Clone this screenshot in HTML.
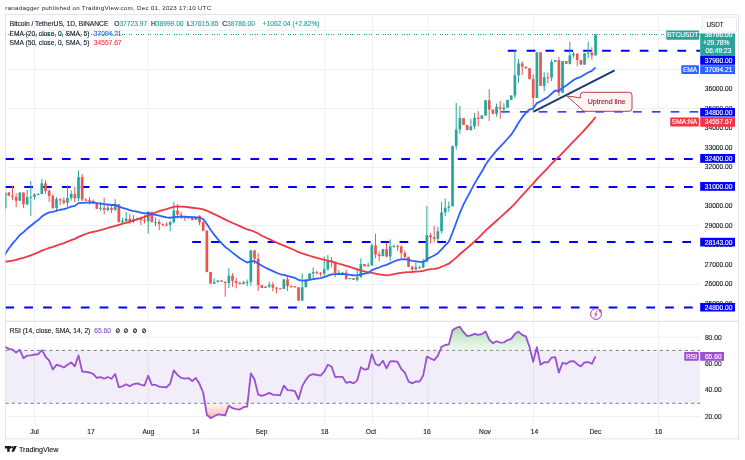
<!DOCTYPE html>
<html><head><meta charset="utf-8"><style>html,body{margin:0;padding:0;background:#fff;width:745px;height:460px;overflow:hidden}</style></head>
<body><svg width="745" height="460" viewBox="0 0 745 460" style="display:block;font-family:'Liberation Sans', sans-serif;will-change:transform">
<defs><clipPath id="plot"><rect x="5.5" y="15" width="694.5" height="306"/></clipPath><clipPath id="rsip"><rect x="5.5" y="321.8" width="694.5" height="103"/></clipPath><linearGradient id="osg" x1="0" y1="0" x2="0" y2="1"><stop offset="0" stop-color="#f7c9c4" stop-opacity="0.2"/><stop offset="1" stop-color="#f4a79d" stop-opacity="0.9"/></linearGradient><linearGradient id="obg" x1="0" y1="1" x2="0" y2="0"><stop offset="0" stop-color="#c5e8c8" stop-opacity="0.3"/><stop offset="1" stop-color="#9fd8a6" stop-opacity="0.9"/></linearGradient></defs>
<rect width="745" height="460" fill="#fff"/>
<text x="5.3" y="10.2" font-size="6.2" letter-spacing="0.27" fill="#222" stroke="none">ranadagger published on TradingView.com, Dec 01, 2023 17:10 UTC</text>
<rect x="5.5" y="14.5" width="733" height="424.3" fill="none" stroke="#e3e5ea" stroke-width="1"/>
<line x1="5.5" x2="700" y1="30.5" y2="30.5" stroke="#eef0f4" stroke-width="1"/>
<line x1="5.5" x2="700" y1="69.5" y2="69.5" stroke="#eef0f4" stroke-width="1"/>
<line x1="5.5" x2="700" y1="108.5" y2="108.5" stroke="#eef0f4" stroke-width="1"/>
<line x1="5.5" x2="700" y1="167.5" y2="167.5" stroke="#eef0f4" stroke-width="1"/>
<line x1="5.5" x2="700" y1="225.5" y2="225.5" stroke="#eef0f4" stroke-width="1"/>
<line x1="5.5" x2="700" y1="284.5" y2="284.5" stroke="#eef0f4" stroke-width="1"/>
<line x1="5.5" x2="700" y1="337.3" y2="337.3" stroke="#eef0f4" stroke-width="1"/>
<line x1="5.5" x2="700" y1="416.4" y2="416.4" stroke="#eef0f4" stroke-width="1"/>
<line x1="34.5" x2="34.5" y1="15" y2="424.5" stroke="#eef0f4" stroke-width="1"/>
<line x1="148.3" x2="148.3" y1="15" y2="424.5" stroke="#eef0f4" stroke-width="1"/>
<line x1="324.8" x2="324.8" y1="15" y2="424.5" stroke="#eef0f4" stroke-width="1"/>
<line x1="372.5" x2="372.5" y1="15" y2="424.5" stroke="#eef0f4" stroke-width="1"/>
<line x1="428.3" x2="428.3" y1="15" y2="424.5" stroke="#eef0f4" stroke-width="1"/>
<line x1="533.6" x2="533.6" y1="15" y2="424.5" stroke="#eef0f4" stroke-width="1"/>
<line x1="658.4" x2="658.4" y1="15" y2="424.5" stroke="#eef0f4" stroke-width="1"/>
<line x1="5" x2="738" y1="321.3" y2="321.3" stroke="#e0e3eb" stroke-width="1.2"/>
<g clip-path="url(#plot)">
<line x1="507.8" x2="700" y1="50.80" y2="50.80" stroke="#0000ff" stroke-width="2" stroke-dasharray="8.7 10.15" stroke-dashoffset="0"/>
<line x1="501" x2="700" y1="111.90" y2="111.90" stroke="#0000ff" stroke-width="1.3" stroke-dasharray="8.7 10.15" stroke-dashoffset="0"/>
<line x1="5.4" x2="700" y1="159.00" y2="159.00" stroke="#0000ff" stroke-width="2" stroke-dasharray="8.7 10.15" stroke-dashoffset="0"/>
<line x1="5.4" x2="700" y1="186.90" y2="186.90" stroke="#0000ff" stroke-width="2" stroke-dasharray="8.7 10.15" stroke-dashoffset="0"/>
<line x1="192.2" x2="700" y1="242.00" y2="242.00" stroke="#0000ff" stroke-width="2" stroke-dasharray="8.7 10.15" stroke-dashoffset="0"/>
<line x1="5.4" x2="700" y1="307.60" y2="307.60" stroke="#0000ff" stroke-width="2" stroke-dasharray="8.7 10.15" stroke-dashoffset="0"/>
<line x1="5" x2="700" y1="34.5" y2="34.5" stroke="#1f9e88" stroke-width="1" stroke-dasharray="1 1 1 4 1 1 1 2 1 1 1 4" stroke-dashoffset="9"/>
<line x1="1.50" x2="1.50" y1="196.25" y2="213.80" stroke="#ef5350" stroke-width="1"/><rect x="0.15" y="206.00" width="2.7" height="2.15" fill="#ef5350"/><line x1="5.16" x2="5.16" y1="192.34" y2="209.71" stroke="#26a69a" stroke-width="1"/><rect x="3.81" y="192.54" width="2.7" height="15.61" fill="#26a69a"/><line x1="8.83" x2="8.83" y1="191.95" y2="196.25" stroke="#ef5350" stroke-width="1"/><rect x="7.48" y="192.54" width="2.7" height="3.12" fill="#ef5350"/><line x1="12.50" x2="12.50" y1="185.52" y2="200.15" stroke="#ef5350" stroke-width="1"/><rect x="11.15" y="195.66" width="2.7" height="1.17" fill="#ef5350"/><line x1="16.16" x2="16.16" y1="193.32" y2="207.37" stroke="#ef5350" stroke-width="1"/><rect x="14.81" y="196.83" width="2.7" height="3.90" fill="#ef5350"/><line x1="19.83" x2="19.83" y1="192.34" y2="200.93" stroke="#26a69a" stroke-width="1"/><rect x="18.48" y="192.54" width="2.7" height="8.19" fill="#26a69a"/><line x1="23.50" x2="23.50" y1="192.34" y2="207.95" stroke="#ef5350" stroke-width="1"/><rect x="22.15" y="192.54" width="2.7" height="11.90" fill="#ef5350"/><line x1="27.17" x2="27.17" y1="189.81" y2="205.22" stroke="#26a69a" stroke-width="1"/><rect x="25.82" y="197.22" width="2.7" height="7.22" fill="#26a69a"/><line x1="30.83" x2="30.83" y1="181.03" y2="215.75" stroke="#26a69a" stroke-width="1"/><rect x="29.48" y="196.83" width="2.7" height="1.00" fill="#26a69a"/><line x1="34.50" x2="34.50" y1="193.32" y2="199.56" stroke="#26a69a" stroke-width="1"/><rect x="33.15" y="194.49" width="2.7" height="2.34" fill="#26a69a"/><line x1="38.17" x2="38.17" y1="193.32" y2="195.27" stroke="#26a69a" stroke-width="1"/><rect x="36.82" y="193.91" width="2.7" height="1.00" fill="#26a69a"/><line x1="41.83" x2="41.83" y1="179.08" y2="194.30" stroke="#26a69a" stroke-width="1"/><rect x="40.48" y="183.37" width="2.7" height="10.53" fill="#26a69a"/><line x1="45.50" x2="45.50" y1="180.25" y2="193.71" stroke="#ef5350" stroke-width="1"/><rect x="44.15" y="183.37" width="2.7" height="7.61" fill="#ef5350"/><line x1="49.17" x2="49.17" y1="188.83" y2="202.10" stroke="#ef5350" stroke-width="1"/><rect x="47.82" y="190.98" width="2.7" height="5.07" fill="#ef5350"/><line x1="52.84" x2="52.84" y1="194.30" y2="208.93" stroke="#ef5350" stroke-width="1"/><rect x="51.48" y="196.05" width="2.7" height="11.90" fill="#ef5350"/><line x1="56.50" x2="56.50" y1="197.22" y2="211.85" stroke="#26a69a" stroke-width="1"/><rect x="55.15" y="199.17" width="2.7" height="8.78" fill="#26a69a"/><line x1="60.17" x2="60.17" y1="198.39" y2="205.02" stroke="#ef5350" stroke-width="1"/><rect x="58.82" y="199.17" width="2.7" height="1.17" fill="#ef5350"/><line x1="63.84" x2="63.84" y1="197.22" y2="204.44" stroke="#ef5350" stroke-width="1"/><rect x="62.49" y="200.34" width="2.7" height="2.34" fill="#ef5350"/><line x1="67.50" x2="67.50" y1="185.52" y2="206.98" stroke="#26a69a" stroke-width="1"/><rect x="66.15" y="198.00" width="2.7" height="4.68" fill="#26a69a"/><line x1="71.17" x2="71.17" y1="190.39" y2="200.73" stroke="#26a69a" stroke-width="1"/><rect x="69.82" y="193.91" width="2.7" height="4.10" fill="#26a69a"/><line x1="74.84" x2="74.84" y1="186.69" y2="202.10" stroke="#ef5350" stroke-width="1"/><rect x="73.49" y="193.91" width="2.7" height="4.49" fill="#ef5350"/><line x1="78.50" x2="78.50" y1="170.50" y2="201.12" stroke="#26a69a" stroke-width="1"/><rect x="77.15" y="177.13" width="2.7" height="21.26" fill="#26a69a"/><line x1="82.17" x2="82.17" y1="174.01" y2="201.12" stroke="#ef5350" stroke-width="1"/><rect x="80.82" y="177.13" width="2.7" height="22.43" fill="#ef5350"/><line x1="85.84" x2="85.84" y1="198.20" y2="201.12" stroke="#ef5350" stroke-width="1"/><rect x="84.49" y="199.56" width="2.7" height="1.00" fill="#ef5350"/><line x1="89.50" x2="89.50" y1="197.22" y2="204.44" stroke="#ef5350" stroke-width="1"/><rect x="88.16" y="200.15" width="2.7" height="1.00" fill="#ef5350"/><line x1="93.17" x2="93.17" y1="199.37" y2="204.05" stroke="#ef5350" stroke-width="1"/><rect x="91.82" y="201.12" width="2.7" height="1.95" fill="#ef5350"/><line x1="96.84" x2="96.84" y1="202.49" y2="208.93" stroke="#ef5350" stroke-width="1"/><rect x="95.49" y="203.07" width="2.7" height="5.66" fill="#ef5350"/><line x1="100.51" x2="100.51" y1="202.10" y2="210.68" stroke="#26a69a" stroke-width="1"/><rect x="99.16" y="207.76" width="2.7" height="1.00" fill="#26a69a"/><line x1="104.17" x2="104.17" y1="197.81" y2="214.39" stroke="#ef5350" stroke-width="1"/><rect x="102.82" y="207.76" width="2.7" height="2.15" fill="#ef5350"/><line x1="107.84" x2="107.84" y1="205.02" y2="211.46" stroke="#26a69a" stroke-width="1"/><rect x="106.49" y="207.76" width="2.7" height="2.15" fill="#26a69a"/><line x1="111.51" x2="111.51" y1="206.20" y2="213.02" stroke="#ef5350" stroke-width="1"/><rect x="110.16" y="207.76" width="2.7" height="2.15" fill="#ef5350"/><line x1="115.17" x2="115.17" y1="199.17" y2="210.88" stroke="#26a69a" stroke-width="1"/><rect x="113.82" y="204.24" width="2.7" height="5.66" fill="#26a69a"/><line x1="118.84" x2="118.84" y1="204.05" y2="222.58" stroke="#ef5350" stroke-width="1"/><rect x="117.49" y="204.24" width="2.7" height="17.75" fill="#ef5350"/><line x1="122.51" x2="122.51" y1="217.90" y2="224.92" stroke="#26a69a" stroke-width="1"/><rect x="121.16" y="221.02" width="2.7" height="1.00" fill="#26a69a"/><line x1="126.17" x2="126.17" y1="212.05" y2="223.56" stroke="#26a69a" stroke-width="1"/><rect x="124.83" y="218.68" width="2.7" height="2.34" fill="#26a69a"/><line x1="129.84" x2="129.84" y1="214.19" y2="224.14" stroke="#ef5350" stroke-width="1"/><rect x="128.49" y="218.68" width="2.7" height="2.73" fill="#ef5350"/><line x1="133.51" x2="133.51" y1="215.17" y2="223.17" stroke="#26a69a" stroke-width="1"/><rect x="132.16" y="219.27" width="2.7" height="2.15" fill="#26a69a"/><line x1="137.18" x2="137.18" y1="217.51" y2="220.44" stroke="#26a69a" stroke-width="1"/><rect x="135.83" y="218.49" width="2.7" height="1.00" fill="#26a69a"/><line x1="140.84" x2="140.84" y1="216.73" y2="224.92" stroke="#ef5350" stroke-width="1"/><rect x="139.49" y="218.49" width="2.7" height="1.56" fill="#ef5350"/><line x1="144.51" x2="144.51" y1="215.17" y2="223.56" stroke="#ef5350" stroke-width="1"/><rect x="143.16" y="220.05" width="2.7" height="1.00" fill="#ef5350"/><line x1="148.18" x2="148.18" y1="211.07" y2="233.51" stroke="#26a69a" stroke-width="1"/><rect x="146.83" y="211.85" width="2.7" height="9.17" fill="#26a69a"/><line x1="151.84" x2="151.84" y1="211.46" y2="222.58" stroke="#ef5350" stroke-width="1"/><rect x="150.49" y="211.85" width="2.7" height="10.14" fill="#ef5350"/><line x1="155.51" x2="155.51" y1="217.51" y2="226.29" stroke="#26a69a" stroke-width="1"/><rect x="154.16" y="222.00" width="2.7" height="1.00" fill="#26a69a"/><line x1="159.18" x2="159.18" y1="219.46" y2="230.38" stroke="#ef5350" stroke-width="1"/><rect x="157.83" y="222.00" width="2.7" height="2.15" fill="#ef5350"/><line x1="162.84" x2="162.84" y1="223.36" y2="226.29" stroke="#ef5350" stroke-width="1"/><rect x="161.50" y="224.14" width="2.7" height="1.00" fill="#ef5350"/><line x1="166.51" x2="166.51" y1="222.39" y2="226.29" stroke="#ef5350" stroke-width="1"/><rect x="165.16" y="224.53" width="2.7" height="1.00" fill="#ef5350"/><line x1="170.18" x2="170.18" y1="220.83" y2="231.36" stroke="#26a69a" stroke-width="1"/><rect x="168.83" y="222.00" width="2.7" height="2.73" fill="#26a69a"/><line x1="173.85" x2="173.85" y1="202.10" y2="223.56" stroke="#26a69a" stroke-width="1"/><rect x="172.50" y="210.49" width="2.7" height="11.51" fill="#26a69a"/><line x1="177.51" x2="177.51" y1="204.05" y2="218.68" stroke="#ef5350" stroke-width="1"/><rect x="176.16" y="210.49" width="2.7" height="4.10" fill="#ef5350"/><line x1="181.18" x2="181.18" y1="211.66" y2="219.07" stroke="#ef5350" stroke-width="1"/><rect x="179.83" y="214.58" width="2.7" height="2.54" fill="#ef5350"/><line x1="184.85" x2="184.85" y1="215.36" y2="220.83" stroke="#ef5350" stroke-width="1"/><rect x="183.50" y="217.12" width="2.7" height="1.00" fill="#ef5350"/><line x1="188.51" x2="188.51" y1="216.34" y2="218.68" stroke="#26a69a" stroke-width="1"/><rect x="187.16" y="217.31" width="2.7" height="1.00" fill="#26a69a"/><line x1="192.18" x2="192.18" y1="216.73" y2="220.44" stroke="#ef5350" stroke-width="1"/><rect x="190.83" y="216.92" width="2.7" height="2.93" fill="#ef5350"/><line x1="195.85" x2="195.85" y1="216.92" y2="220.05" stroke="#26a69a" stroke-width="1"/><rect x="194.50" y="217.51" width="2.7" height="2.34" fill="#26a69a"/><line x1="199.51" x2="199.51" y1="215.36" y2="225.12" stroke="#ef5350" stroke-width="1"/><rect x="198.16" y="215.75" width="2.7" height="6.44" fill="#ef5350"/><line x1="203.18" x2="203.18" y1="220.83" y2="231.36" stroke="#ef5350" stroke-width="1"/><rect x="201.83" y="222.19" width="2.7" height="8.58" fill="#ef5350"/><line x1="206.85" x2="206.85" y1="230.19" y2="272.33" stroke="#ef5350" stroke-width="1"/><rect x="205.50" y="230.78" width="2.7" height="41.16" fill="#ef5350"/><line x1="210.52" x2="210.52" y1="271.94" y2="283.64" stroke="#ef5350" stroke-width="1"/><rect x="209.17" y="271.94" width="2.7" height="11.70" fill="#ef5350"/><line x1="214.18" x2="214.18" y1="278.37" y2="284.23" stroke="#26a69a" stroke-width="1"/><rect x="212.83" y="282.08" width="2.7" height="1.56" fill="#26a69a"/><line x1="217.85" x2="217.85" y1="280.13" y2="282.28" stroke="#26a69a" stroke-width="1"/><rect x="216.50" y="280.52" width="2.7" height="1.56" fill="#26a69a"/><line x1="221.52" x2="221.52" y1="280.33" y2="281.89" stroke="#ef5350" stroke-width="1"/><rect x="220.17" y="280.52" width="2.7" height="1.17" fill="#ef5350"/><line x1="225.18" x2="225.18" y1="281.50" y2="296.71" stroke="#ef5350" stroke-width="1"/><rect x="223.83" y="281.69" width="2.7" height="1.37" fill="#ef5350"/><line x1="228.85" x2="228.85" y1="268.23" y2="287.93" stroke="#26a69a" stroke-width="1"/><rect x="227.50" y="275.64" width="2.7" height="7.41" fill="#26a69a"/><line x1="232.52" x2="232.52" y1="273.11" y2="286.76" stroke="#ef5350" stroke-width="1"/><rect x="231.17" y="275.64" width="2.7" height="5.27" fill="#ef5350"/><line x1="236.19" x2="236.19" y1="277.79" y2="288.32" stroke="#ef5350" stroke-width="1"/><rect x="234.84" y="280.91" width="2.7" height="2.15" fill="#ef5350"/><line x1="239.85" x2="239.85" y1="281.50" y2="284.62" stroke="#ef5350" stroke-width="1"/><rect x="238.50" y="283.06" width="2.7" height="1.00" fill="#ef5350"/><line x1="243.52" x2="243.52" y1="280.72" y2="284.42" stroke="#26a69a" stroke-width="1"/><rect x="242.17" y="282.28" width="2.7" height="1.56" fill="#26a69a"/><line x1="247.19" x2="247.19" y1="279.55" y2="286.37" stroke="#26a69a" stroke-width="1"/><rect x="245.84" y="281.89" width="2.7" height="1.00" fill="#26a69a"/><line x1="250.85" x2="250.85" y1="249.70" y2="285.59" stroke="#26a69a" stroke-width="1"/><rect x="249.50" y="250.48" width="2.7" height="31.41" fill="#26a69a"/><line x1="254.52" x2="254.52" y1="249.70" y2="263.94" stroke="#ef5350" stroke-width="1"/><rect x="253.17" y="250.48" width="2.7" height="8.19" fill="#ef5350"/><line x1="258.19" x2="258.19" y1="253.21" y2="290.86" stroke="#ef5350" stroke-width="1"/><rect x="256.84" y="258.67" width="2.7" height="26.53" fill="#ef5350"/><line x1="261.85" x2="261.85" y1="285.01" y2="287.93" stroke="#ef5350" stroke-width="1"/><rect x="260.50" y="285.20" width="2.7" height="2.73" fill="#ef5350"/><line x1="265.52" x2="265.52" y1="286.37" y2="288.13" stroke="#26a69a" stroke-width="1"/><rect x="264.17" y="286.57" width="2.7" height="1.37" fill="#26a69a"/><line x1="269.19" x2="269.19" y1="281.50" y2="288.13" stroke="#26a69a" stroke-width="1"/><rect x="267.84" y="284.62" width="2.7" height="1.95" fill="#26a69a"/><line x1="272.86" x2="272.86" y1="281.89" y2="291.45" stroke="#ef5350" stroke-width="1"/><rect x="271.50" y="284.62" width="2.7" height="3.12" fill="#ef5350"/><line x1="276.52" x2="276.52" y1="286.76" y2="293.40" stroke="#ef5350" stroke-width="1"/><rect x="275.17" y="287.74" width="2.7" height="1.00" fill="#ef5350"/><line x1="280.19" x2="280.19" y1="287.93" y2="289.10" stroke="#ef5350" stroke-width="1"/><rect x="278.84" y="288.32" width="2.7" height="1.00" fill="#ef5350"/><line x1="283.86" x2="283.86" y1="278.96" y2="289.10" stroke="#26a69a" stroke-width="1"/><rect x="282.51" y="279.35" width="2.7" height="9.56" fill="#26a69a"/><line x1="287.52" x2="287.52" y1="275.45" y2="291.05" stroke="#ef5350" stroke-width="1"/><rect x="286.17" y="279.35" width="2.7" height="6.63" fill="#ef5350"/><line x1="291.19" x2="291.19" y1="285.20" y2="287.93" stroke="#ef5350" stroke-width="1"/><rect x="289.84" y="285.98" width="2.7" height="1.00" fill="#ef5350"/><line x1="294.86" x2="294.86" y1="285.98" y2="287.54" stroke="#ef5350" stroke-width="1"/><rect x="293.51" y="286.18" width="2.7" height="1.17" fill="#ef5350"/><line x1="298.52" x2="298.52" y1="286.96" y2="300.81" stroke="#ef5350" stroke-width="1"/><rect x="297.17" y="287.35" width="2.7" height="13.07" fill="#ef5350"/><line x1="302.19" x2="302.19" y1="273.50" y2="301.00" stroke="#26a69a" stroke-width="1"/><rect x="300.84" y="287.15" width="2.7" height="13.27" fill="#26a69a"/><line x1="305.86" x2="305.86" y1="279.15" y2="287.35" stroke="#26a69a" stroke-width="1"/><rect x="304.51" y="279.55" width="2.7" height="7.61" fill="#26a69a"/><line x1="309.52" x2="309.52" y1="273.11" y2="280.13" stroke="#26a69a" stroke-width="1"/><rect x="308.17" y="273.50" width="2.7" height="6.05" fill="#26a69a"/><line x1="313.19" x2="313.19" y1="267.45" y2="279.74" stroke="#26a69a" stroke-width="1"/><rect x="311.84" y="272.13" width="2.7" height="1.37" fill="#26a69a"/><line x1="316.86" x2="316.86" y1="270.96" y2="274.67" stroke="#ef5350" stroke-width="1"/><rect x="315.51" y="272.13" width="2.7" height="1.00" fill="#ef5350"/><line x1="320.53" x2="320.53" y1="271.94" y2="276.42" stroke="#ef5350" stroke-width="1"/><rect x="319.18" y="272.91" width="2.7" height="1.00" fill="#ef5350"/><line x1="324.19" x2="324.19" y1="256.53" y2="276.62" stroke="#26a69a" stroke-width="1"/><rect x="322.84" y="269.21" width="2.7" height="4.49" fill="#26a69a"/><line x1="327.86" x2="327.86" y1="254.97" y2="270.96" stroke="#26a69a" stroke-width="1"/><rect x="326.51" y="260.43" width="2.7" height="8.78" fill="#26a69a"/><line x1="331.53" x2="331.53" y1="257.31" y2="267.45" stroke="#ef5350" stroke-width="1"/><rect x="330.18" y="260.43" width="2.7" height="1.56" fill="#ef5350"/><line x1="335.19" x2="335.19" y1="261.60" y2="277.01" stroke="#ef5350" stroke-width="1"/><rect x="333.84" y="261.99" width="2.7" height="10.92" fill="#ef5350"/><line x1="338.86" x2="338.86" y1="269.99" y2="274.86" stroke="#26a69a" stroke-width="1"/><rect x="337.51" y="272.72" width="2.7" height="1.00" fill="#26a69a"/><line x1="342.53" x2="342.53" y1="271.94" y2="274.08" stroke="#26a69a" stroke-width="1"/><rect x="341.18" y="272.72" width="2.7" height="1.00" fill="#26a69a"/><line x1="346.19" x2="346.19" y1="269.60" y2="279.74" stroke="#ef5350" stroke-width="1"/><rect x="344.84" y="272.72" width="2.7" height="6.44" fill="#ef5350"/><line x1="349.86" x2="349.86" y1="277.98" y2="279.35" stroke="#26a69a" stroke-width="1"/><rect x="348.51" y="278.18" width="2.7" height="1.00" fill="#26a69a"/><line x1="353.53" x2="353.53" y1="277.98" y2="279.94" stroke="#ef5350" stroke-width="1"/><rect x="352.18" y="278.18" width="2.7" height="1.56" fill="#ef5350"/><line x1="357.20" x2="357.20" y1="267.84" y2="281.50" stroke="#26a69a" stroke-width="1"/><rect x="355.85" y="277.20" width="2.7" height="2.54" fill="#26a69a"/><line x1="360.86" x2="360.86" y1="258.48" y2="277.59" stroke="#26a69a" stroke-width="1"/><rect x="359.51" y="264.13" width="2.7" height="13.07" fill="#26a69a"/><line x1="364.53" x2="364.53" y1="263.94" y2="266.47" stroke="#ef5350" stroke-width="1"/><rect x="363.18" y="264.13" width="2.7" height="2.15" fill="#ef5350"/><line x1="368.20" x2="368.20" y1="262.77" y2="266.86" stroke="#26a69a" stroke-width="1"/><rect x="366.85" y="265.30" width="2.7" height="1.00" fill="#26a69a"/><line x1="371.86" x2="371.86" y1="243.65" y2="265.69" stroke="#26a69a" stroke-width="1"/><rect x="370.51" y="245.41" width="2.7" height="19.90" fill="#26a69a"/><line x1="375.53" x2="375.53" y1="233.70" y2="258.28" stroke="#ef5350" stroke-width="1"/><rect x="374.18" y="245.41" width="2.7" height="9.17" fill="#ef5350"/><line x1="379.20" x2="379.20" y1="251.45" y2="261.40" stroke="#ef5350" stroke-width="1"/><rect x="377.85" y="254.57" width="2.7" height="1.56" fill="#ef5350"/><line x1="382.87" x2="382.87" y1="248.92" y2="256.33" stroke="#26a69a" stroke-width="1"/><rect x="381.51" y="249.11" width="2.7" height="7.02" fill="#26a69a"/><line x1="386.53" x2="386.53" y1="242.68" y2="257.31" stroke="#ef5350" stroke-width="1"/><rect x="385.18" y="249.11" width="2.7" height="7.41" fill="#ef5350"/><line x1="390.20" x2="390.20" y1="239.36" y2="261.01" stroke="#26a69a" stroke-width="1"/><rect x="388.85" y="246.38" width="2.7" height="10.14" fill="#26a69a"/><line x1="393.87" x2="393.87" y1="244.63" y2="247.75" stroke="#26a69a" stroke-width="1"/><rect x="392.52" y="245.80" width="2.7" height="1.00" fill="#26a69a"/><line x1="397.53" x2="397.53" y1="245.02" y2="250.87" stroke="#ef5350" stroke-width="1"/><rect x="396.18" y="245.80" width="2.7" height="1.00" fill="#ef5350"/><line x1="401.20" x2="401.20" y1="245.21" y2="258.87" stroke="#ef5350" stroke-width="1"/><rect x="399.85" y="246.58" width="2.7" height="6.44" fill="#ef5350"/><line x1="404.87" x2="404.87" y1="250.28" y2="258.67" stroke="#ef5350" stroke-width="1"/><rect x="403.52" y="253.01" width="2.7" height="3.90" fill="#ef5350"/><line x1="408.53" x2="408.53" y1="256.72" y2="267.06" stroke="#ef5350" stroke-width="1"/><rect x="407.18" y="256.92" width="2.7" height="9.95" fill="#ef5350"/><line x1="412.20" x2="412.20" y1="265.69" y2="273.50" stroke="#ef5350" stroke-width="1"/><rect x="410.85" y="266.86" width="2.7" height="2.34" fill="#ef5350"/><line x1="415.87" x2="415.87" y1="262.57" y2="270.38" stroke="#26a69a" stroke-width="1"/><rect x="414.52" y="267.26" width="2.7" height="1.95" fill="#26a69a"/><line x1="419.53" x2="419.53" y1="265.50" y2="268.43" stroke="#ef5350" stroke-width="1"/><rect x="418.18" y="267.26" width="2.7" height="1.00" fill="#ef5350"/><line x1="423.20" x2="423.20" y1="258.87" y2="268.23" stroke="#26a69a" stroke-width="1"/><rect x="421.85" y="261.60" width="2.7" height="5.85" fill="#26a69a"/><line x1="426.87" x2="426.87" y1="206.00" y2="262.38" stroke="#26a69a" stroke-width="1"/><rect x="425.52" y="235.26" width="2.7" height="26.34" fill="#26a69a"/><line x1="430.54" x2="430.54" y1="233.12" y2="243.46" stroke="#ef5350" stroke-width="1"/><rect x="429.19" y="235.26" width="2.7" height="1.95" fill="#ef5350"/><line x1="434.20" x2="434.20" y1="225.90" y2="242.48" stroke="#ef5350" stroke-width="1"/><rect x="432.85" y="237.21" width="2.7" height="1.56" fill="#ef5350"/><line x1="437.87" x2="437.87" y1="226.87" y2="241.50" stroke="#26a69a" stroke-width="1"/><rect x="436.52" y="231.17" width="2.7" height="7.61" fill="#26a69a"/><line x1="441.54" x2="441.54" y1="202.10" y2="233.31" stroke="#26a69a" stroke-width="1"/><rect x="440.19" y="212.44" width="2.7" height="18.73" fill="#26a69a"/><line x1="445.20" x2="445.20" y1="198.59" y2="216.14" stroke="#26a69a" stroke-width="1"/><rect x="443.85" y="207.76" width="2.7" height="4.68" fill="#26a69a"/><line x1="448.87" x2="448.87" y1="201.51" y2="211.85" stroke="#26a69a" stroke-width="1"/><rect x="447.52" y="206.20" width="2.7" height="1.56" fill="#26a69a"/><line x1="452.54" x2="452.54" y1="145.53" y2="206.20" stroke="#26a69a" stroke-width="1"/><rect x="451.19" y="146.11" width="2.7" height="60.08" fill="#26a69a"/><line x1="456.20" x2="456.20" y1="103.00" y2="149.82" stroke="#26a69a" stroke-width="1"/><rect x="454.85" y="129.53" width="2.7" height="16.58" fill="#26a69a"/><line x1="459.87" x2="459.87" y1="105.92" y2="134.02" stroke="#26a69a" stroke-width="1"/><rect x="458.52" y="118.21" width="2.7" height="11.31" fill="#26a69a"/><line x1="463.54" x2="463.54" y1="118.02" y2="125.24" stroke="#ef5350" stroke-width="1"/><rect x="462.19" y="118.21" width="2.7" height="6.83" fill="#ef5350"/><line x1="467.21" x2="467.21" y1="124.85" y2="130.31" stroke="#ef5350" stroke-width="1"/><rect x="465.86" y="125.04" width="2.7" height="5.07" fill="#ef5350"/><line x1="470.87" x2="470.87" y1="118.99" y2="130.70" stroke="#26a69a" stroke-width="1"/><rect x="469.52" y="126.41" width="2.7" height="3.71" fill="#26a69a"/><line x1="474.54" x2="474.54" y1="112.95" y2="129.14" stroke="#26a69a" stroke-width="1"/><rect x="473.19" y="117.63" width="2.7" height="8.78" fill="#26a69a"/><line x1="478.21" x2="478.21" y1="111.00" y2="126.41" stroke="#ef5350" stroke-width="1"/><rect x="476.86" y="117.63" width="2.7" height="1.17" fill="#ef5350"/><line x1="481.87" x2="481.87" y1="115.29" y2="118.99" stroke="#26a69a" stroke-width="1"/><rect x="480.52" y="115.48" width="2.7" height="3.32" fill="#26a69a"/><line x1="485.54" x2="485.54" y1="99.88" y2="115.87" stroke="#26a69a" stroke-width="1"/><rect x="484.19" y="100.27" width="2.7" height="15.22" fill="#26a69a"/><line x1="489.21" x2="489.21" y1="89.34" y2="120.95" stroke="#ef5350" stroke-width="1"/><rect x="487.86" y="100.27" width="2.7" height="9.36" fill="#ef5350"/><line x1="492.88" x2="492.88" y1="109.44" y2="114.31" stroke="#ef5350" stroke-width="1"/><rect x="491.52" y="109.63" width="2.7" height="4.10" fill="#ef5350"/><line x1="496.54" x2="496.54" y1="103.58" y2="116.65" stroke="#26a69a" stroke-width="1"/><rect x="495.19" y="106.90" width="2.7" height="6.83" fill="#26a69a"/><line x1="500.21" x2="500.21" y1="101.05" y2="118.60" stroke="#ef5350" stroke-width="1"/><rect x="498.86" y="106.90" width="2.7" height="1.56" fill="#ef5350"/><line x1="503.88" x2="503.88" y1="103.19" y2="113.34" stroke="#26a69a" stroke-width="1"/><rect x="502.53" y="107.68" width="2.7" height="1.76" fill="#26a69a"/><line x1="507.54" x2="507.54" y1="99.88" y2="107.87" stroke="#26a69a" stroke-width="1"/><rect x="506.19" y="99.88" width="2.7" height="7.80" fill="#26a69a"/><line x1="511.21" x2="511.21" y1="95.39" y2="100.07" stroke="#26a69a" stroke-width="1"/><rect x="509.86" y="95.58" width="2.7" height="4.29" fill="#26a69a"/><line x1="514.88" x2="514.88" y1="50.33" y2="98.12" stroke="#26a69a" stroke-width="1"/><rect x="513.53" y="75.30" width="2.7" height="20.29" fill="#26a69a"/><line x1="518.54" x2="518.54" y1="59.10" y2="82.51" stroke="#26a69a" stroke-width="1"/><rect x="517.19" y="63.40" width="2.7" height="11.90" fill="#26a69a"/><line x1="522.21" x2="522.21" y1="61.45" y2="74.91" stroke="#ef5350" stroke-width="1"/><rect x="520.86" y="63.40" width="2.7" height="3.32" fill="#ef5350"/><line x1="525.88" x2="525.88" y1="66.52" y2="68.47" stroke="#ef5350" stroke-width="1"/><rect x="524.53" y="66.71" width="2.7" height="1.56" fill="#ef5350"/><line x1="529.54" x2="529.54" y1="68.08" y2="79.39" stroke="#ef5350" stroke-width="1"/><rect x="528.19" y="68.27" width="2.7" height="10.92" fill="#ef5350"/><line x1="533.21" x2="533.21" y1="74.32" y2="112.36" stroke="#ef5350" stroke-width="1"/><rect x="531.86" y="79.20" width="2.7" height="18.73" fill="#ef5350"/><line x1="536.88" x2="536.88" y1="52.08" y2="98.12" stroke="#26a69a" stroke-width="1"/><rect x="535.53" y="52.28" width="2.7" height="45.65" fill="#26a69a"/><line x1="540.55" x2="540.55" y1="52.08" y2="86.03" stroke="#ef5350" stroke-width="1"/><rect x="539.20" y="52.28" width="2.7" height="33.55" fill="#ef5350"/><line x1="544.21" x2="544.21" y1="72.18" y2="91.29" stroke="#26a69a" stroke-width="1"/><rect x="542.86" y="77.25" width="2.7" height="8.58" fill="#26a69a"/><line x1="547.88" x2="547.88" y1="72.37" y2="83.29" stroke="#ef5350" stroke-width="1"/><rect x="546.53" y="77.25" width="2.7" height="1.00" fill="#ef5350"/><line x1="551.55" x2="551.55" y1="59.49" y2="81.15" stroke="#26a69a" stroke-width="1"/><rect x="550.20" y="61.84" width="2.7" height="15.80" fill="#26a69a"/><line x1="555.21" x2="555.21" y1="59.89" y2="62.03" stroke="#26a69a" stroke-width="1"/><rect x="553.86" y="60.08" width="2.7" height="1.76" fill="#26a69a"/><line x1="558.88" x2="558.88" y1="56.76" y2="96.17" stroke="#ef5350" stroke-width="1"/><rect x="557.53" y="60.08" width="2.7" height="32.58" fill="#ef5350"/><line x1="562.55" x2="562.55" y1="60.86" y2="92.85" stroke="#26a69a" stroke-width="1"/><rect x="561.20" y="61.06" width="2.7" height="31.60" fill="#26a69a"/><line x1="566.21" x2="566.21" y1="60.86" y2="63.98" stroke="#ef5350" stroke-width="1"/><rect x="564.86" y="61.06" width="2.7" height="2.73" fill="#ef5350"/><line x1="569.88" x2="569.88" y1="41.74" y2="64.57" stroke="#26a69a" stroke-width="1"/><rect x="568.53" y="55.40" width="2.7" height="8.39" fill="#26a69a"/><line x1="573.55" x2="573.55" y1="52.08" y2="57.74" stroke="#26a69a" stroke-width="1"/><rect x="572.20" y="53.84" width="2.7" height="1.56" fill="#26a69a"/><line x1="577.22" x2="577.22" y1="53.06" y2="66.32" stroke="#ef5350" stroke-width="1"/><rect x="575.87" y="53.84" width="2.7" height="6.24" fill="#ef5350"/><line x1="580.88" x2="580.88" y1="59.89" y2="64.76" stroke="#ef5350" stroke-width="1"/><rect x="579.53" y="60.08" width="2.7" height="4.49" fill="#ef5350"/><line x1="584.55" x2="584.55" y1="53.06" y2="64.76" stroke="#26a69a" stroke-width="1"/><rect x="583.20" y="53.25" width="2.7" height="11.31" fill="#26a69a"/><line x1="588.22" x2="588.22" y1="41.55" y2="58.52" stroke="#26a69a" stroke-width="1"/><rect x="586.87" y="52.67" width="2.7" height="1.00" fill="#26a69a"/><line x1="591.88" x2="591.88" y1="47.20" y2="59.69" stroke="#ef5350" stroke-width="1"/><rect x="590.53" y="52.67" width="2.7" height="2.73" fill="#ef5350"/><line x1="595.55" x2="595.55" y1="34.33" y2="55.59" stroke="#26a69a" stroke-width="1"/><rect x="594.20" y="34.52" width="2.7" height="20.87" fill="#26a69a"/>
<polyline points="1.50,262.34 5.16,261.63 8.83,261.24 12.50,260.63 16.16,259.91 19.83,258.73 23.50,257.77 27.17,256.66 30.83,255.30 34.50,253.82 38.17,252.32 41.83,250.67 45.50,249.27 49.17,247.91 52.84,246.94 56.50,245.56 60.17,244.24 63.84,243.05 67.50,241.62 71.17,240.15 74.84,238.91 78.50,236.90 82.17,235.40 85.84,234.00 89.50,232.69 93.17,231.88 96.84,231.05 100.51,230.19 104.17,229.19 107.84,227.98 111.51,226.99 115.17,225.81 118.84,225.00 122.51,223.64 126.17,222.81 129.84,221.69 133.51,220.59 137.18,219.47 140.84,218.13 144.51,216.84 148.18,215.36 151.84,214.08 155.51,212.50 159.18,211.14 162.84,210.08 166.51,209.09 170.18,207.98 173.85,206.84 177.51,206.35 181.18,206.58 184.85,206.77 188.51,207.26 192.18,207.75 195.85,208.16 199.51,208.59 203.18,209.36 206.85,210.71 210.52,212.43 214.18,214.14 217.85,215.86 221.52,217.62 225.18,219.61 228.85,221.30 232.52,223.00 236.19,224.50 239.85,226.19 243.52,227.83 247.19,229.42 250.85,230.47 254.52,231.76 258.19,233.50 261.85,235.71 265.52,237.45 269.19,239.14 272.86,240.88 276.52,242.58 280.19,244.18 283.86,245.62 287.52,247.14 291.19,248.71 294.86,250.26 298.52,252.18 302.19,253.48 305.86,254.65 309.52,255.75 313.19,256.76 316.86,257.84 320.53,258.94 324.19,259.92 327.86,260.71 331.53,261.71 335.19,262.73 338.86,263.75 342.53,264.72 346.19,265.81 349.86,266.88 353.53,268.04 357.20,269.37 360.86,270.36 364.53,271.34 368.20,272.30 371.86,272.86 375.53,273.55 379.20,274.32 382.87,274.86 386.53,275.38 390.20,274.87 393.87,274.11 397.53,273.40 401.20,272.85 404.87,272.35 408.53,272.03 412.20,271.90 415.87,271.63 419.53,271.32 423.20,270.87 426.87,269.93 430.54,269.04 434.20,268.80 437.87,268.25 441.54,266.80 445.20,265.20 448.87,263.59 452.54,260.82 456.20,257.65 459.87,254.25 463.54,250.97 467.21,247.99 470.87,244.80 474.54,241.43 478.21,238.06 481.87,234.36 485.54,230.62 489.21,227.22 492.88,224.03 496.54,220.72 500.21,217.43 503.88,214.11 507.54,210.72 511.21,207.43 514.88,203.69 518.54,199.50 522.21,195.38 525.88,191.29 529.54,187.30 533.21,183.69 536.88,179.14 540.55,175.31 544.21,171.58 547.88,167.80 551.55,163.73 555.21,160.03 558.88,156.79 562.55,152.89 566.21,149.18 569.88,145.16 573.55,141.31 577.22,137.59 580.88,133.95 584.55,129.96 588.22,125.87 591.88,121.64 595.55,116.95" fill="none" stroke="#f23645" stroke-width="1.8" stroke-linejoin="round"/>
<polyline points="1.50,260.56 5.16,254.08 8.83,248.52 12.50,243.60 16.16,239.51 19.83,235.04 23.50,232.13 27.17,228.80 30.83,225.76 34.50,222.78 38.17,220.03 41.83,216.54 45.50,214.10 49.17,212.38 52.84,211.96 56.50,210.74 60.17,209.75 63.84,209.08 67.50,208.03 71.17,206.68 74.84,205.89 78.50,203.15 82.17,202.81 85.84,202.56 89.50,202.42 93.17,202.48 96.84,203.08 100.51,203.52 104.17,204.13 107.84,204.48 111.51,204.99 115.17,204.92 118.84,206.55 122.51,207.93 126.17,208.95 129.84,210.14 133.51,211.01 137.18,211.72 140.84,212.51 144.51,213.32 148.18,213.18 151.84,214.02 155.51,214.78 159.18,215.67 162.84,216.52 166.51,217.30 170.18,217.75 173.85,217.05 177.51,216.82 181.18,216.85 184.85,216.93 188.51,216.97 192.18,217.24 195.85,217.27 199.51,217.74 203.18,218.98 206.85,224.02 210.52,229.70 214.18,234.69 217.85,239.05 221.52,243.11 225.18,246.92 228.85,249.65 232.52,252.63 236.19,255.53 239.85,258.22 243.52,260.51 247.19,262.55 250.85,261.40 254.52,261.14 258.19,263.43 261.85,265.77 265.52,267.75 269.19,269.35 272.86,271.10 276.52,272.74 280.19,274.28 283.86,274.77 287.52,275.83 291.19,276.82 294.86,277.82 298.52,279.97 302.19,280.66 305.86,280.55 309.52,279.88 313.19,279.14 316.86,278.55 320.53,278.09 324.19,277.24 327.86,275.64 331.53,274.34 335.19,274.20 338.86,274.06 342.53,273.93 346.19,274.43 349.86,274.79 353.53,275.26 357.20,275.44 360.86,274.37 364.53,273.60 368.20,272.81 371.86,270.20 375.53,268.71 379.20,267.51 382.87,265.76 386.53,264.88 390.20,263.12 393.87,261.47 397.53,260.05 401.20,259.38 404.87,259.15 408.53,259.88 412.20,260.77 415.87,261.39 419.53,261.96 423.20,261.93 426.87,259.39 430.54,257.28 434.20,255.52 437.87,253.20 441.54,249.31 445.20,245.36 448.87,241.63 452.54,232.53 456.20,222.72 459.87,212.77 463.54,204.41 467.21,197.34 470.87,190.58 474.54,183.63 478.21,177.46 481.87,171.56 485.54,164.77 489.21,159.52 492.88,155.15 496.54,150.56 500.21,146.55 503.88,142.85 507.54,138.76 511.21,134.64 514.88,128.99 518.54,122.74 522.21,117.41 525.88,112.73 529.54,109.54 533.21,108.43 536.88,103.08 540.55,101.44 544.21,99.13 547.88,97.09 551.55,93.73 555.21,90.53 558.88,90.73 562.55,87.90 566.21,85.61 569.88,82.73 573.55,79.98 577.22,78.08 580.88,76.80 584.55,74.55 588.22,72.47 591.88,70.84 595.55,67.38" fill="none" stroke="#2962ff" stroke-width="1.8" stroke-linejoin="round"/>
<line x1="533.7" y1="111.7" x2="614.7" y2="70.3" stroke="#173a73" stroke-width="1.9"/>
<path d="M583.3,92.3 H629 Q632,92.3 632,95.3 V108.3 Q632,111.3 629,111.3 H584 Q576,104 566.8,96.1 Q574,96.6 580.3,98 V95.3 Q580.3,92.3 583.3,92.3 Z" fill="#fdf4f4" stroke="#ad2a35" stroke-width="0.9" stroke-linejoin="round"/>
<text x="587.7" y="104" font-size="7" fill="#a01c26" stroke="#a01c26" stroke-width="0.12">Uptrend line</text>
</g>
<circle cx="596" cy="314" r="5.4" fill="#fff" stroke="#9c27b0" stroke-width="0.9"/>
<path d="M597.3,310.8 L594.6,314.3 L597,314 L594.7,317.3" fill="none" stroke="#9c27b0" stroke-width="0.8"/>
<rect x="599.3" y="309.5" width="2" height="2.8" fill="#f23645"/>
<text y="26" font-size="6.67" fill="#131722" stroke="#131722" stroke-width="0.12"><tspan x="9.7">Bitcoin / TetherUS, 1D, BINANCE</tspan><tspan x="114.2">O</tspan><tspan fill="#26a69a" stroke="#26a69a" stroke-width="0.12">37723.97</tspan><tspan x="151">H</tspan><tspan fill="#26a69a" stroke="#26a69a" stroke-width="0.12">38999.00</tspan><tspan x="186.9">L</tspan><tspan fill="#26a69a" stroke="#26a69a" stroke-width="0.12">37615.85</tspan><tspan x="222.3">C</tspan><tspan fill="#26a69a" stroke="#26a69a" stroke-width="0.12">38786.00</tspan><tspan x="262.6" fill="#26a69a" stroke="#26a69a" stroke-width="0.12">+1062.04 (+2.82%)</tspan></text><text y="35.5" font-size="6.67" fill="#131722" stroke="#131722" stroke-width="0.12"><tspan x="9.6">EMA (20, close, 0, SMA, 5)</tspan><tspan x="93.8" fill="#2962ff" stroke="#2962ff" stroke-width="0.12">37094.21</tspan></text><text y="44.8" font-size="6.67" fill="#131722" stroke="#131722" stroke-width="0.12"><tspan x="9.6">SMA (50, close, 0, SMA, 5)</tspan><tspan x="93.8" fill="#f23645" stroke="#f23645" stroke-width="0.12">34557.67</tspan></text>
<g clip-path="url(#rsip)">
<rect x="5.5" y="350.4" width="694.5" height="52.90" fill="#7e57c2" fill-opacity="0.1"/>
<line x1="5.5" x2="700" y1="350.4" y2="350.4" stroke="#787b86" stroke-width="1" stroke-dasharray="3.1 3.19"/>
<line x1="5.5" x2="700" y1="403.30" y2="403.30" stroke="#787b86" stroke-width="1" stroke-dasharray="3.1 3.19"/>
<polygon points="204.94,403.30 206.85,414.75 210.52,418.09 214.18,416.29 217.85,414.43 221.52,414.83 225.18,415.32 228.85,405.68 232.52,408.13 236.19,409.11 239.85,409.48 243.52,407.22 247.19,406.63 247.55,403.30" fill="url(#osg)"/>
<polygon points="1.92,350.40 5.16,346.77 8.83,348.85 12.50,349.66 13.47,350.40" fill="url(#obg)"/>
<polygon points="19.01,350.40 19.83,349.81 20.09,350.40" fill="url(#obg)"/>
<polygon points="41.57,350.40 41.83,350.09 42.01,350.40" fill="url(#obg)"/>
<polygon points="440.04,350.40 441.54,346.80 445.20,344.99 448.87,344.38 452.54,330.14 456.20,327.97 459.87,326.67 463.54,332.13 467.21,336.14 470.87,335.44 474.54,333.81 478.21,334.83 481.87,334.16 485.54,331.33 489.21,339.61 492.88,343.11 496.54,341.26 500.21,342.67 503.88,342.43 507.54,340.08 511.21,338.85 514.88,333.90 518.54,331.58 522.21,334.83 525.88,336.40 529.54,346.95 530.40,350.40" fill="url(#obg)"/>
<polygon points="536.05,350.40 536.88,347.05 537.57,350.40" fill="url(#obg)"/>
<polyline points="1.50,350.88 5.16,346.77 8.83,348.85 12.50,349.66 16.16,352.46 19.83,349.81 23.50,358.23 27.17,355.58 30.83,355.44 34.50,354.52 38.17,354.28 41.83,350.09 45.50,356.56 49.17,360.67 52.84,369.50 56.50,364.88 60.17,365.75 63.84,367.56 67.50,364.83 71.17,362.48 74.84,366.40 78.50,355.33 82.17,371.48 85.84,371.85 89.50,372.50 93.17,373.87 96.84,377.80 100.51,377.10 104.17,378.70 107.84,376.97 111.51,378.73 115.17,373.95 118.84,387.20 122.51,386.34 126.17,384.21 129.84,386.22 133.51,384.09 137.18,383.29 140.84,384.66 144.51,385.55 148.18,375.57 151.84,384.81 155.51,384.81 159.18,386.71 162.84,387.06 166.51,387.25 170.18,383.52 173.85,370.33 177.51,375.05 181.18,377.87 184.85,378.53 188.51,378.04 192.18,381.19 195.85,377.95 199.51,383.80 203.18,392.74 206.85,414.75 210.52,418.09 214.18,416.29 217.85,414.43 221.52,414.83 225.18,415.32 228.85,405.68 232.52,408.13 236.19,409.11 239.85,409.48 243.52,407.22 247.19,406.63 250.85,373.35 254.52,379.54 258.19,394.54 261.85,395.78 265.52,394.62 269.19,392.91 272.86,394.61 276.52,394.94 280.19,395.29 283.86,385.67 287.52,390.16 291.19,390.29 294.86,391.12 298.52,399.37 302.19,386.24 305.86,379.90 309.52,375.27 313.19,374.24 316.86,374.91 320.53,375.62 324.19,371.69 327.86,364.79 331.53,366.45 335.19,376.99 338.86,376.82 342.53,376.82 346.19,382.90 349.86,381.83 353.53,383.35 357.20,380.32 360.86,367.26 364.53,369.70 368.20,368.78 371.86,354.05 375.53,364.00 379.20,365.58 382.87,360.72 386.53,368.25 390.20,361.41 393.87,361.04 397.53,361.89 401.20,368.76 404.87,372.65 408.53,381.50 412.20,383.40 415.87,381.44 419.53,381.62 423.20,375.55 426.87,356.54 430.54,358.52 434.20,360.15 437.87,355.60 441.54,346.80 445.20,344.99 448.87,344.38 452.54,330.14 456.20,327.97 459.87,326.67 463.54,332.13 467.21,336.14 470.87,335.44 474.54,333.81 478.21,334.83 481.87,334.16 485.54,331.33 489.21,339.61 492.88,343.11 496.54,341.26 500.21,342.67 503.88,342.43 507.54,340.08 511.21,338.85 514.88,333.90 518.54,331.58 522.21,334.83 525.88,336.40 529.54,346.95 533.21,361.78 536.88,347.05 540.55,364.88 544.21,362.24 547.88,362.44 551.55,357.58 555.21,357.05 558.88,372.68 562.55,362.79 566.21,363.96 569.88,361.50 573.55,361.04 577.22,364.15 580.88,366.40 584.55,362.39 588.22,362.19 591.88,363.78 595.55,356.38" fill="none" stroke="#9b4fd1" stroke-width="1.8" stroke-linejoin="round"/>
</g>
<text y="333.4" font-size="6.67" fill="#131722" stroke="#131722" stroke-width="0.12"><tspan x="9.7">RSI (14, close, SMA, 14, 2)</tspan><tspan x="94.2" fill="#7e57c2" stroke="#7e57c2" stroke-width="0.12">65.60</tspan></text>
<ellipse cx="117.8" cy="330.7" rx="1.6" ry="2.0" fill="none" stroke="#131722" stroke-width="0.9"/><line x1="116.7" y1="332.3" x2="118.89999999999999" y2="329.09999999999997" stroke="#131722" stroke-width="0.6"/>
<ellipse cx="125.9" cy="330.7" rx="1.6" ry="2.0" fill="none" stroke="#131722" stroke-width="0.9"/><line x1="124.80000000000001" y1="332.3" x2="127.0" y2="329.09999999999997" stroke="#131722" stroke-width="0.6"/>
<ellipse cx="135" cy="330.7" rx="1.6" ry="2.0" fill="none" stroke="#131722" stroke-width="0.9"/><line x1="133.9" y1="332.3" x2="136.1" y2="329.09999999999997" stroke="#131722" stroke-width="0.6"/>
<ellipse cx="144.1" cy="330.7" rx="1.6" ry="2.0" fill="none" stroke="#131722" stroke-width="0.9"/><line x1="143.0" y1="332.3" x2="145.2" y2="329.09999999999997" stroke="#131722" stroke-width="0.6"/>
<text x="732.5" y="91.35" font-size="6.67" fill="#131722" text-anchor="end" stroke="#131722" stroke-width="0.12">36000.00</text>
<text x="732.5" y="110.86" font-size="6.67" fill="#131722" text-anchor="end" stroke="#131722" stroke-width="0.12">35000.00</text>
<text x="732.5" y="130.37" font-size="6.67" fill="#131722" text-anchor="end" stroke="#131722" stroke-width="0.12">34000.00</text>
<text x="732.5" y="149.88" font-size="6.67" fill="#131722" text-anchor="end" stroke="#131722" stroke-width="0.12">33000.00</text>
<text x="732.5" y="169.38" font-size="6.67" fill="#131722" text-anchor="end" stroke="#131722" stroke-width="0.12">32000.00</text>
<text x="732.5" y="208.40" font-size="6.67" fill="#131722" text-anchor="end" stroke="#131722" stroke-width="0.12">30000.00</text>
<text x="732.5" y="227.91" font-size="6.67" fill="#131722" text-anchor="end" stroke="#131722" stroke-width="0.12">29000.00</text>
<text x="732.5" y="247.42" font-size="6.67" fill="#131722" text-anchor="end" stroke="#131722" stroke-width="0.12">28000.00</text>
<text x="732.5" y="266.92" font-size="6.67" fill="#131722" text-anchor="end" stroke="#131722" stroke-width="0.12">27000.00</text>
<text x="732.5" y="286.43" font-size="6.67" fill="#131722" text-anchor="end" stroke="#131722" stroke-width="0.12">26000.00</text>
<text x="732.5" y="305.94" font-size="6.67" fill="#131722" text-anchor="end" stroke="#131722" stroke-width="0.12">25000.00</text>
<text x="721.6" y="339.57" font-size="6.67" fill="#131722" text-anchor="end" stroke="#131722" stroke-width="0.12">80.00</text>
<text x="721.6" y="366.02" font-size="6.67" fill="#131722" text-anchor="end" stroke="#131722" stroke-width="0.12">60.00</text>
<text x="721.6" y="392.47" font-size="6.67" fill="#131722" text-anchor="end" stroke="#131722" stroke-width="0.12">40.00</text>
<text x="721.6" y="418.92" font-size="6.67" fill="#131722" text-anchor="end" stroke="#131722" stroke-width="0.12">20.00</text>
<rect x="700.2" y="33.5" width="34.8" height="22.5" fill="#26a69a"/>
<text x="732.5" y="37.3" font-size="6.67" fill="#fff" text-anchor="end" stroke="#fff" stroke-width="0.12">38786.00</text>
<text x="729.5" y="45.2" font-size="6.67" fill="#fff" text-anchor="end" stroke="#fff" stroke-width="0.12">+29.78%</text>
<text x="731.5" y="53.1" font-size="6.67" fill="#fff" text-anchor="end" stroke="#fff" stroke-width="0.12">06:49:23</text>
<rect x="666.2" y="30.4" width="32.90" height="9.30" rx="1" fill="#26a69a"/>
<text x="682.65" y="37.45" font-size="6.67" fill="#fff" text-anchor="middle" stroke="#fff" stroke-width="0.12">BTCUSDT</text>
<rect x="700.2" y="56" width="34.80" height="8.80" fill="#0000ff"/>
<text x="732.5" y="62.80" font-size="6.67" fill="#fff" text-anchor="end" stroke="#fff" stroke-width="0.12">37980.00</text>
<rect x="700.2" y="65.2" width="34.80" height="8.90" fill="#2962ff"/>
<text x="732.5" y="72.05" font-size="6.67" fill="#fff" text-anchor="end" stroke="#fff" stroke-width="0.12">37094.21</text>
<rect x="681.3" y="65.2" width="17.60" height="8.90" rx="1" fill="#2962ff"/>
<text x="690.10" y="72.05" font-size="6.67" fill="#fff" text-anchor="middle" stroke="#fff" stroke-width="0.12">EMA</text>
<rect x="700.2" y="108" width="34.80" height="8.60" fill="#0000ff"/>
<text x="732.5" y="114.70" font-size="6.67" fill="#fff" text-anchor="end" stroke="#fff" stroke-width="0.12">34800.00</text>
<rect x="700.2" y="117.2" width="34.80" height="9.60" fill="#f23645"/>
<text x="732.5" y="124.40" font-size="6.67" fill="#fff" text-anchor="end" stroke="#fff" stroke-width="0.12">34557.67</text>
<rect x="670.2" y="117.5" width="28.70" height="9.10" rx="1" fill="#f23645"/>
<text x="684.55" y="124.45" font-size="6.67" fill="#fff" text-anchor="middle" stroke="#fff" stroke-width="0.12">SMA:NA</text>
<rect x="700.2" y="154" width="34.80" height="8.80" fill="#0000ff"/>
<text x="732.5" y="160.80" font-size="6.67" fill="#fff" text-anchor="end" stroke="#fff" stroke-width="0.12">32400.00</text>
<rect x="700.2" y="182" width="34.80" height="8.80" fill="#0000ff"/>
<text x="732.5" y="188.80" font-size="6.67" fill="#fff" text-anchor="end" stroke="#fff" stroke-width="0.12">31000.00</text>
<rect x="700.2" y="237.8" width="34.80" height="8.70" fill="#0000ff"/>
<text x="732.5" y="244.55" font-size="6.67" fill="#fff" text-anchor="end" stroke="#fff" stroke-width="0.12">28143.00</text>
<rect x="700.2" y="303" width="34.80" height="8.50" fill="#0000ff"/>
<text x="732.5" y="309.65" font-size="6.67" fill="#fff" text-anchor="end" stroke="#fff" stroke-width="0.12">24800.00</text>
<rect x="700.2" y="352" width="23.8" height="8.8" fill="#9c50d2"/>
<text x="721.6" y="358.8" font-size="6.67" fill="#fff" text-anchor="end" stroke="#fff" stroke-width="0.12">65.60</text>
<rect x="684.2" y="352" width="14.60" height="8.80" rx="1" fill="#9c50d2"/>
<text x="691.50" y="358.80" font-size="6.67" fill="#fff" text-anchor="middle" stroke="#fff" stroke-width="0.12">RSI</text>
<rect x="702.3" y="17.2" width="34.2" height="15" rx="2" fill="#fff" stroke="#e0e3eb" stroke-width="0.8"/>
<text x="715" y="27.3" font-size="6.3" fill="#131722" text-anchor="middle" stroke="#131722" stroke-width="0.12">USDT</text>
<text x="34.5" y="433.9" font-size="6.67" fill="#131722" text-anchor="middle" stroke="#131722" stroke-width="0.12">Jul</text>
<text x="91" y="433.9" font-size="6.67" fill="#131722" text-anchor="middle" stroke="#131722" stroke-width="0.12">17</text>
<text x="148.3" y="433.9" font-size="6.67" fill="#131722" text-anchor="middle" stroke="#131722" stroke-width="0.12">Aug</text>
<text x="195.8" y="433.9" font-size="6.67" fill="#131722" text-anchor="middle" stroke="#131722" stroke-width="0.12">14</text>
<text x="261.5" y="433.9" font-size="6.67" fill="#131722" text-anchor="middle" stroke="#131722" stroke-width="0.12">Sep</text>
<text x="324.8" y="433.9" font-size="6.67" fill="#131722" text-anchor="middle" stroke="#131722" stroke-width="0.12">18</text>
<text x="371" y="433.9" font-size="6.67" fill="#131722" text-anchor="middle" stroke="#131722" stroke-width="0.12">Oct</text>
<text x="427" y="433.9" font-size="6.67" fill="#131722" text-anchor="middle" stroke="#131722" stroke-width="0.12">16</text>
<text x="485" y="433.9" font-size="6.67" fill="#131722" text-anchor="middle" stroke="#131722" stroke-width="0.12">Nov</text>
<text x="534.5" y="433.9" font-size="6.67" fill="#131722" text-anchor="middle" stroke="#131722" stroke-width="0.12">14</text>
<text x="595.3" y="433.9" font-size="6.67" fill="#131722" text-anchor="middle" stroke="#131722" stroke-width="0.12">Dec</text>
<text x="658.5" y="433.9" font-size="6.67" fill="#131722" text-anchor="middle" stroke="#131722" stroke-width="0.12">16</text>
<g fill="#131722"><path d="M4.9,446.1 H11.2 V448.4 H9.7 V451.8 H7.2 V448.4 H4.9 Z"/><circle cx="12.3" cy="447.3" r="1.15"/><path d="M14.0,446.1 H16.8 L14.0,451.8 H11.4 Z"/></g>
<text x="19" y="451.6" font-size="7.2" fill="#131722" stroke="#131722" stroke-width="0.12">TradingView</text>
</svg></body></html>
